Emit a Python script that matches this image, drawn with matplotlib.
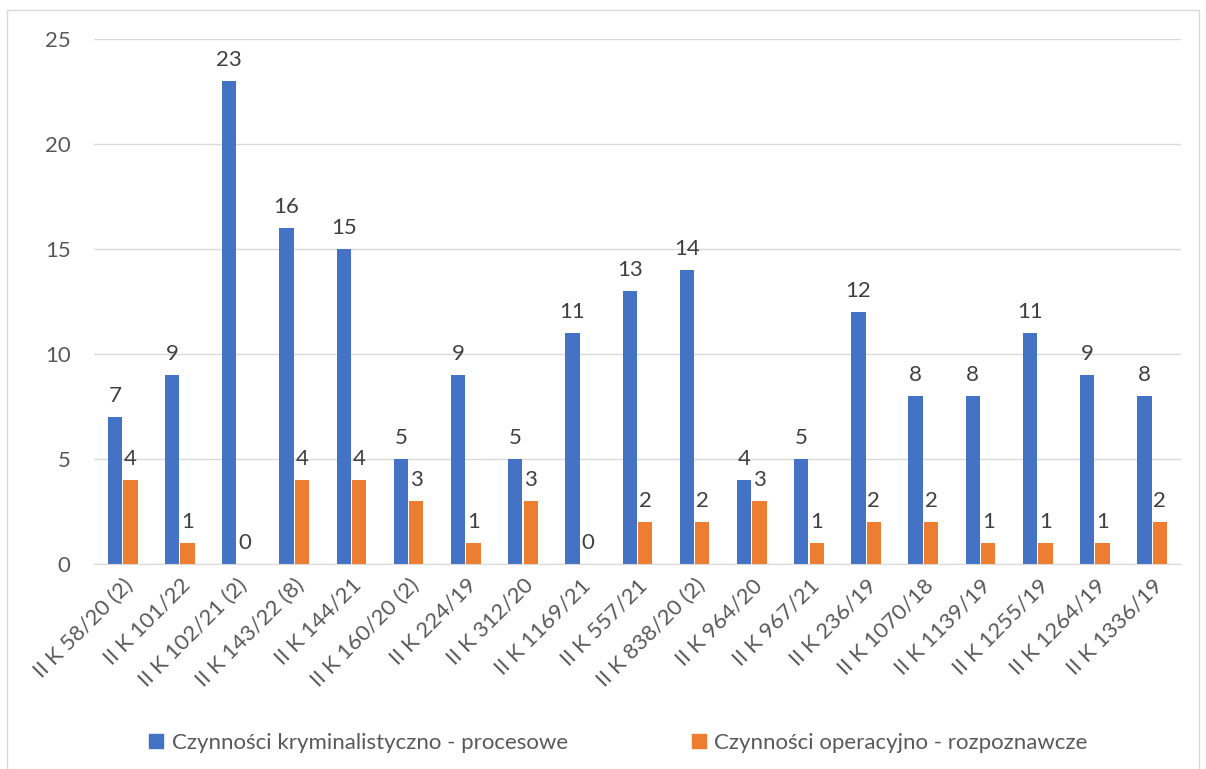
import numpy as np
import matplotlib.pyplot as plt
from matplotlib.patches import Rectangle, Patch

cases = ["II K 58/20 (2)", "II K 101/22", "II K 102/21 (2)", "II K 143/22 (8)",
         "II K 144/21", "II K 160/20 (2)", "II K 224/19", "II K 312/20",
         "II K 1169/21", "II K 557/21", "II K 838/20 (2)", "II K 964/20",
         "II K 967/21", "II K 236/19", "II K 1070/18", "II K 1139/19",
         "II K 1255/19", "II K 1264/19", "II K 1336/19"]
procesowe = [7, 9, 23, 16, 15, 5, 9, 5, 11, 13, 14, 4, 5, 12, 8, 8, 11, 9, 8]
rozpoznawcze = [4, 1, 0, 4, 4, 3, 1, 3, 0, 2, 2, 3, 1, 2, 2, 1, 1, 1, 2]

blue = "#4472C4"
orange = "#ED7D31"
txt = "#595959"
fs = 16

plt.rcParams['font.family'] = ['Lato', 'DejaVu Sans']

fig = plt.figure(figsize=(12.06, 7.69), dpi=100)
ax = fig.add_axes([0.078, 0.2666, 0.901, 0.6825])

x = np.arange(len(cases))
w = 0.25
b1 = ax.bar(x - w / 2 - 0.01, procesowe, w, color=blue)
b2 = ax.bar(x + w / 2 + 0.01, rozpoznawcze, w, color=orange)

# value labels over every bar
for bars in (b1, b2):
    for r in bars:
        ax.annotate(f"{int(r.get_height())}", (r.get_x() + r.get_width() / 2, r.get_height()),
                    xytext=(0, 8), textcoords="offset points", ha="center", va="bottom",
                    fontsize=fs, color="#404040")

ax.set_xlim(-0.5, len(cases) - 0.5)
ax.set_ylim(0, 25)
ax.set_yticks([0, 5, 10, 15, 20, 25])
ax.yaxis.grid(True, color="#d9d9d9", linewidth=1)
ax.set_axisbelow(True)
for s in ("top", "right", "left"):
    ax.spines[s].set_visible(False)
ax.spines["bottom"].set_color("#d9d9d9")
ax.tick_params(axis="both", length=0, labelsize=fs, colors=txt)
ax.tick_params(axis="y", pad=17)
ax.set_xticks(x)
ax.set_xticklabels(cases, rotation=45, ha="right", rotation_mode="anchor")
ax.tick_params(axis="x", pad=8)

# chart area frame
fig.patches.append(Rectangle((7 / 1206, -0.01), 1192 / 1206, 1 - 10 / 769 + 0.01,
                             transform=fig.transFigure, fill=False,
                             edgecolor="#d9d9d9", linewidth=1))

handles = [Patch(color=blue), Patch(color=orange)]
fig.legend(handles, ["Czynności kryminalistyczno - procesowe", "Czynności operacyjno - rozpoznawcze"],
           loc="center", bbox_to_anchor=(0.513, 0.034), ncol=2, frameon=False,
           fontsize=fs, labelcolor=txt, handlelength=0.6, handleheight=0.6,
           handletextpad=0.4, columnspacing=5.6)

fig.savefig("out.png", dpi=100)
